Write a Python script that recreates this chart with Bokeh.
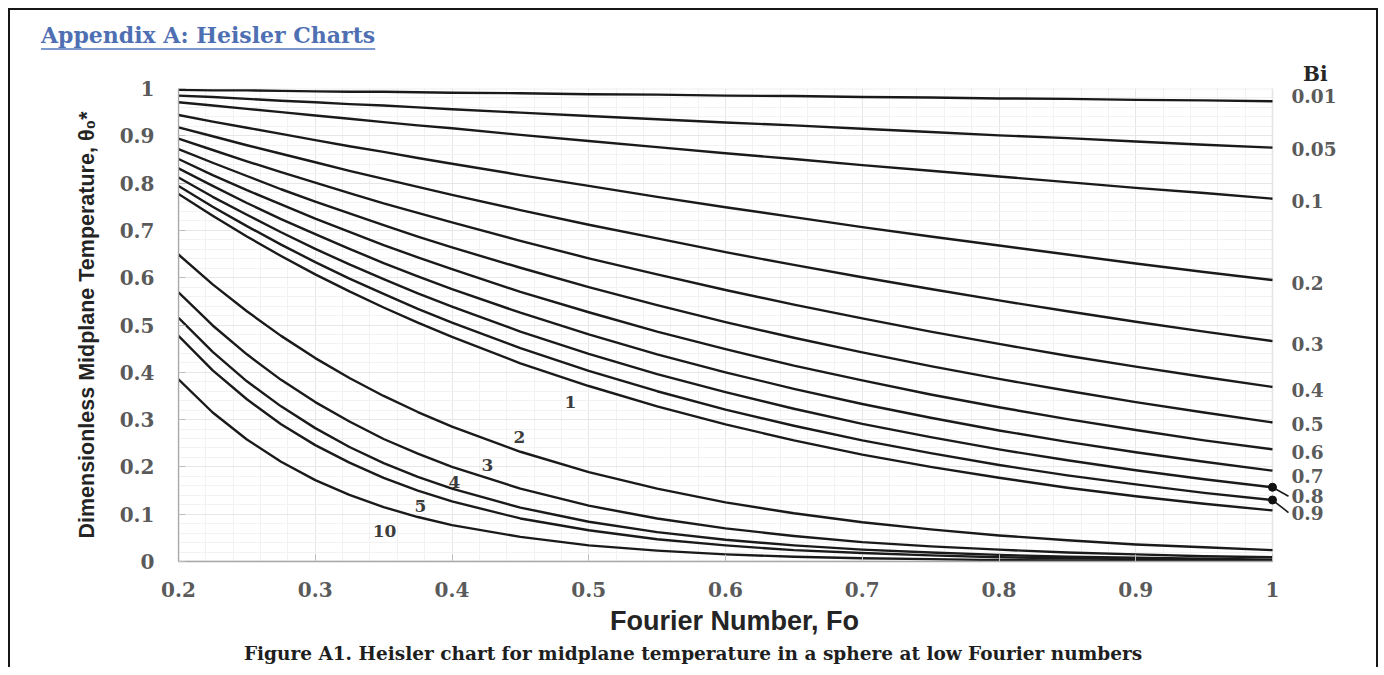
import numpy as np
from bokeh.plotting import figure
from bokeh.layouts import column
from bokeh.models import (Range1d, FixedTicker, CustomJSTickFormatter, LabelSet, LinearAxis,
                          BoxAnnotation, ColumnDataSource, Div)
from bokeh.core.properties import value
from bokeh.embed import file_html
from bokeh.resources import INLINE

# ---------------- data ----------------
fo = [0.200, 0.225, 0.250, 0.275, 0.300, 0.325, 0.350, 0.375, 0.400, 0.45, 0.50,
      0.55, 0.60, 0.65, 0.70, 0.75, 0.80, 0.85, 0.90, 0.95, 1.00]

theta_bi_0_01 = [0.997, 0.996, 0.996, 0.995, 0.994, 0.993, 0.993, 0.992, 0.991, 0.990, 0.988, 0.987, 0.985, 0.984, 0.982, 0.981, 0.979, 0.978, 0.976, 0.975, 0.973]
theta_bi_0_05 = [0.985, 0.982, 0.978, 0.974, 0.971, 0.967, 0.964, 0.960, 0.956, 0.949, 0.942, 0.935, 0.928, 0.922, 0.915, 0.908, 0.901, 0.895, 0.888, 0.881, 0.875]
theta_bi_0_1 = [0.971, 0.964, 0.957, 0.950, 0.943, 0.936, 0.929, 0.922, 0.916, 0.902, 0.889, 0.876, 0.863, 0.851, 0.838, 0.826, 0.814, 0.802, 0.790, 0.779, 0.767]
theta_bi_0_2 = [0.944, 0.930, 0.917, 0.904, 0.891, 0.878, 0.866, 0.853, 0.841, 0.817, 0.794, 0.771, 0.749, 0.728, 0.707, 0.687, 0.668, 0.649, 0.630, 0.612, 0.595]
theta_bi_0_3 = [0.918, 0.899, 0.880, 0.862, 0.844, 0.826, 0.809, 0.792, 0.775, 0.743, 0.712, 0.683, 0.654, 0.627, 0.601, 0.576, 0.552, 0.529, 0.507, 0.486, 0.466]
theta_bi_0_4 = [0.894, 0.870, 0.846, 0.823, 0.801, 0.779, 0.757, 0.737, 0.717, 0.678, 0.641, 0.607, 0.574, 0.543, 0.514, 0.486, 0.460, 0.435, 0.412, 0.390, 0.369]
theta_bi_0_5 = [0.872, 0.843, 0.815, 0.787, 0.761, 0.736, 0.711, 0.687, 0.664, 0.621, 0.580, 0.542, 0.506, 0.473, 0.442, 0.413, 0.386, 0.361, 0.337, 0.315, 0.294]
theta_bi_0_6 = [0.851, 0.817, 0.785, 0.755, 0.725, 0.697, 0.669, 0.643, 0.618, 0.570, 0.527, 0.486, 0.449, 0.414, 0.383, 0.353, 0.326, 0.301, 0.278, 0.256, 0.237]
theta_bi_0_7 = [0.831, 0.794, 0.758, 0.724, 0.692, 0.661, 0.631, 0.603, 0.576, 0.526, 0.480, 0.438, 0.400, 0.365, 0.333, 0.304, 0.277, 0.253, 0.231, 0.211, 0.192]
theta_bi_0_8 = [0.812, 0.771, 0.733, 0.696, 0.661, 0.628, 0.597, 0.567, 0.539, 0.486, 0.439, 0.396, 0.358, 0.323, 0.291, 0.263, 0.237, 0.214, 0.193, 0.174, 0.157]
theta_bi_0_9 = [0.794, 0.750, 0.709, 0.670, 0.633, 0.598, 0.566, 0.534, 0.505, 0.451, 0.403, 0.360, 0.321, 0.287, 0.256, 0.229, 0.204, 0.182, 0.163, 0.145, 0.130]
theta_bi_1 = [0.777, 0.731, 0.687, 0.646, 0.607, 0.571, 0.537, 0.505, 0.475, 0.419, 0.371, 0.328, 0.290, 0.256, 0.226, 0.200, 0.177, 0.156, 0.138, 0.122, 0.108]
theta_bi_2 = [0.649, 0.586, 0.529, 0.477, 0.430, 0.388, 0.350, 0.316, 0.285, 0.232, 0.189, 0.154, 0.125, 0.102, 0.083, 0.068, 0.055, 0.045, 0.036, 0.030, 0.024]
theta_bi_3 = [0.569, 0.499, 0.438, 0.384, 0.337, 0.296, 0.259, 0.228, 0.200, 0.154, 0.118, 0.091, 0.070, 0.054, 0.041, 0.032, 0.025, 0.019, 0.015, 0.011, 0.009]
theta_bi_4 = [0.515, 0.443, 0.381, 0.328, 0.282, 0.242, 0.208, 0.179, 0.154, 0.114, 0.084, 0.062, 0.046, 0.034, 0.025, 0.019, 0.014, 0.010, 0.008, 0.006, 0.004]
theta_bi_5 = [0.477, 0.404, 0.343, 0.290, 0.246, 0.209, 0.177, 0.150, 0.127, 0.091, 0.066, 0.047, 0.034, 0.024, 0.018, 0.013, 0.009, 0.007, 0.005, 0.003, 0.002]
theta_bi_10 = [0.385, 0.315, 0.258, 0.211, 0.172, 0.141, 0.115, 0.094, 0.077, 0.052, 0.034, 0.023, 0.015, 0.010, 0.007, 0.005, 0.003, 0.002, 0.001, 0.001, 0.001]

bi_names = ["0.01", "0.05", "0.1", "0.2", "0.3", "0.4", "0.5", "0.6", "0.7",
            "0.8", "0.9", "1", "2", "3", "4", "5", "10"]
curves = [theta_bi_0_01, theta_bi_0_05, theta_bi_0_1, theta_bi_0_2, theta_bi_0_3,
          theta_bi_0_4, theta_bi_0_5, theta_bi_0_6, theta_bi_0_7, theta_bi_0_8,
          theta_bi_0_9, theta_bi_1, theta_bi_2, theta_bi_3, theta_bi_4, theta_bi_5,
          theta_bi_10]

right_label_names = ["0.01", "0.05", "0.1", "0.2", "0.3", "0.4", "0.5", "0.6", "0.7", "0.8", "0.9"]
inner_label_names = ["1", "2", "3", "4", "5", "10"]
dotted_names = ["0.8", "0.9"]

x_ticks = [0.2, 0.3, 0.4, 0.5, 0.6, 0.7, 0.8, 0.9, 1.0]
y_ticks = [0.0, 0.1, 0.2, 0.3, 0.4, 0.5, 0.6, 0.7, 0.8, 0.9, 1.0]

title_text = "Appendix A: Heisler Charts"
caption_text = "Figure A1. Heisler chart for midplane temperature in a sphere at low Fourier numbers"
x_title = "Fourier Number, Fo"
y_title = "Dimensionless Midplane Temperature, \u03b8\u2080*"
legend_head = "Bi"

# ---------------- layout helpers (page pixels -> data) ----------------
FL, FR, FT, FB = 178, 1272, 88, 561      # plot-area box on the page
FR_EXT = 1290                            # frame extended a little for dots / leaders
X0, TOP_DIV_H, CAP_H = 10, 44, 27
W = 1366
P_TOP = X0 + TOP_DIV_H
P_H = 586

def fx(px):
    return 0.2 + (px - FL) * 0.8 / (FR - FL)
def dy(dpx):
    return dpx / (FB - FT)

p = figure(width=W, height=P_H, x_range=Range1d(0.2, fx(FR_EXT)), y_range=Range1d(0.0, 1.0),
           output_backend="svg", toolbar_location=None,
           min_border_left=FL - X0, min_border_right=(X0 + W) - FR_EXT,
           min_border_top=FT - P_TOP, min_border_bottom=(P_TOP + P_H) - FB)
p.background_fill_color = "white"
p.border_fill_color = "white"
p.outline_line_color = None

# "Bi" heading above the right-hand labels
p.title.text = legend_head
p.title.align = "right"
p.title.offset = FR_EXT - 1327
p.title.standoff = 6
p.title.vertical_align = "bottom"
p.title.text_font = "DejaVu Serif"
p.title.text_font_style = "bold"
p.title.text_font_size = "20px"
p.title.text_color = "#262626"

minor_x = [round(v, 3) for v in np.arange(0.2, 1.0001, 0.02)]
minor_y = [round(v, 3) for v in np.arange(0.0, 1.0001, 0.02)]
xa = p.xaxis[0]
ya = p.yaxis[0]
xa.ticker = FixedTicker(ticks=x_ticks, minor_ticks=minor_x)
ya.ticker = FixedTicker(ticks=y_ticks, minor_ticks=minor_y)
fmt = CustomJSTickFormatter(code="return String(Math.round(tick*10)/10)")
xa.formatter = fmt
ya.formatter = fmt
xa.bounds = (0.2, 1.0)
ya.bounds = (0.0, 1.0)

for g in (p.xgrid[0], p.ygrid[0]):
    g.grid_line_color = "#e7e7e7"
    g.grid_line_width = 1
    g.minor_grid_line_color = "#f2f2f2"
    g.minor_grid_line_width = 1

for ax in (xa, ya):
    ax.axis_line_color = "#a8a8a8"
    ax.axis_line_width = 1.3
    ax.major_tick_in = 7
    ax.major_tick_out = 0
    ax.major_tick_line_color = "#bdbdbd"
    ax.minor_tick_in = 0
    ax.minor_tick_out = 0
    ax.major_label_text_font = "DejaVu Serif"
    ax.major_label_text_font_style = "bold"
    ax.major_label_text_font_size = "20px"
    ax.major_label_text_color = "#5a5a5a"
    ax.axis_label_text_font_style = "bold"
    ax.axis_label_text_color = "#242424"
    ax.axis_label_text_font = "'Liberation Sans Narrow', 'Liberation Sans', sans-serif"

xa.major_label_standoff = 20
ya.major_label_standoff = 24
xa.axis_label = x_title
xa.axis_label_text_font_size = "27px"
xa.axis_label_standoff = 6
ya.axis_label = y_title
ya.axis_label_text_font_size = "21.5px"
ya.axis_label_standoff = 18

# white strip right of Fo = 1 (frame extension), and the plot-area box
p.add_layout(BoxAnnotation(left=1.0, fill_color="white", fill_alpha=1.0, line_color=None,
                           level="underlay"))
p.add_layout(BoxAnnotation(left=0.2, right=1.0, bottom=0.0, top=1.0, fill_alpha=0.0,
                           line_color="#c6c6c6", line_width=2, level="underlay"))

# ---------------- curves ----------------
for name, th in zip(bi_names, curves):
    p.line(fo, th, line_color="#1a1a1a", line_width=2.4, line_join="round")

# ---------------- right-hand Bi labels (right axis) ----------------
name_to_curve = dict(zip(bi_names, curves))
label_shift_px = {"0.01": -5, "0.05": 1, "0.1": 2, "0.2": 3, "0.3": 2.5, "0.4": 3,
                  "0.5": 1.5, "0.6": 3, "0.7": 5, "0.8": 9, "0.9": 12.5}
label_y = [name_to_curve[nm][-1] - dy(label_shift_px[nm]) for nm in right_label_names]
ra = LinearAxis(ticker=FixedTicker(ticks=label_y),
                formatter=CustomJSTickFormatter(
                    args=dict(vals=label_y, names=right_label_names),
                    code="for (let i = 0; i < vals.length; i++) { if (Math.abs(vals[i] - tick) < 1e-6) return names[i]; } return '';"))
ra.axis_line_color = None
ra.major_tick_in = 0
ra.major_tick_out = 0
ra.minor_tick_in = 0
ra.minor_tick_out = 0
ra.major_label_standoff = 1
ra.major_label_text_font = "DejaVu Serif"
ra.major_label_text_font_style = "bold"
ra.major_label_text_font_size = "18.5px"
ra.major_label_text_color = "#5a5a5a"
p.add_layout(ra, "right")

# dots and leader lines for 0.8 and 0.9
dot_y = [name_to_curve[nm][-1] for nm in dotted_names]
lead_y = [label_y[right_label_names.index(nm)] for nm in dotted_names]
p.segment(x0=[1.0] * len(dotted_names), y0=dot_y, x1=[fx(1288)] * len(dotted_names), y1=lead_y,
          line_color="#1a1a1a", line_width=1.6)
p.scatter([1.0] * len(dotted_names), dot_y, size=8, color="#111111")

# ---------------- inner curve labels ----------------
inner_px = {"1": (570, 401), "2": (519, 436), "3": (487, 464), "4": (454, 481),
            "5": (420, 505), "10": (384, 530)}
ix = [fx(inner_px[n][0]) for n in inner_label_names]
iy = [(FB - inner_px[n][1]) / (FB - FT) for n in inner_label_names]
p.add_layout(LabelSet(source=ColumnDataSource(dict(x=ix, y=iy, t=inner_label_names)),
                      x="x", y="y", text="t",
                      text_font=value("DejaVu Serif"), text_font_style="bold",
                      text_font_size="17px", text_color="#3c3c3c",
                      text_align="center", text_baseline="middle"))

# ---------------- title and caption ----------------
title_div = Div(
    text=('<div style="position:relative; left:31px; top:13px; white-space:nowrap; '
          'font-family:\'DejaVu Serif\'; font-weight:bold; font-size:22px; line-height:24px; '
          'color:#4f6fb3; text-decoration:underline; text-decoration-color:#7d98cf; '
          'text-underline-offset:5px;">' + title_text + '</div>'),
    width=W, height=TOP_DIV_H, margin=0)
caption_div = Div(
    text=('<div style="width:' + str(W) + 'px; text-align:center; white-space:nowrap; '
          'font-family:\'DejaVu Serif\'; font-weight:bold; font-size:18.5px; line-height:27px; '
          'color:#1e1e1e;">' + caption_text + '</div>'),
    width=W, height=CAP_H, margin=0)

layout = column(title_div, p, caption_div, spacing=0)
layout.styles = {"margin-left": "8px", "margin-top": "8px",
                 "border-top": "2px solid #161616", "border-left": "2px solid #161616",
                 "border-right": "2px solid #161616"}

open("out.html", "w").write(file_html(layout, INLINE))
